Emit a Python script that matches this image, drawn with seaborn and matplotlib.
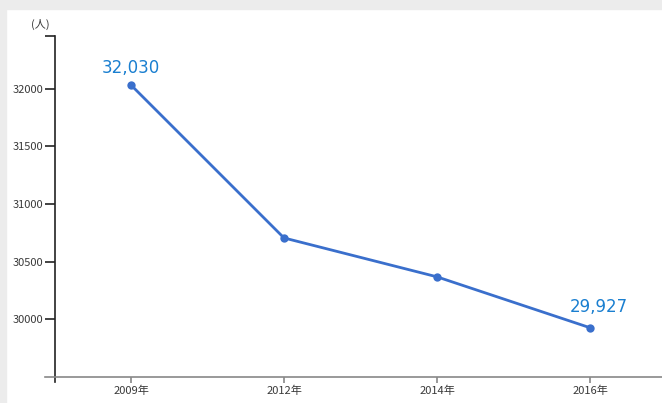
import matplotlib
matplotlib.use("Agg")
import matplotlib.pyplot as plt
import seaborn as sns
import pandas as pd
from matplotlib.patches import Rectangle

years = ["2009年", "2012年", "2014年", "2016年"]
values = [32030, 30705, 30368, 29927]
annot_idx = [0, 3]
annot_text = ["32,030", "29,927"]
yticks = [30000, 30500, 31000, 31500, 32000]
unit_label = "(人)"

sns.set_theme(style="white")
plt.rcParams['font.family'] = ['Noto Sans CJK JP', 'DejaVu Sans']

fig = plt.figure(figsize=(6.62, 4.03), dpi=100)
fig.patch.set_facecolor("white")
# light gray frame at left/top edges
fig.patches.append(Rectangle((0, 0), 6/662, 1, transform=fig.transFigure, color="#ececec", zorder=0))
fig.patches.append(Rectangle((0, 1-9/403), 1, 9/403, transform=fig.transFigure, color="#ececec", zorder=0))

ax = fig.add_axes([45/662, 21/403, 1-45/662, (403-21-36)/403])
ax.set_facecolor("none")

df = pd.DataFrame({"year": years, "value": values})
line_color = "#3a6fcc"
sns.lineplot(data=df, x="year", y="value", ax=ax, color=line_color, linewidth=2,
             marker="o", markersize=6, markeredgewidth=0, sort=False)

unit = 153.0
ax.set_xlim((45-131)/unit, (662-131)/unit)
# y: 30000 at y=319.3, 57.7 px per 500
px_per = 57.7/500
top_val = 30000 + (319.3-36)/px_per
bot_val = 30000 - (403-21-319.3)/px_per
ax.set_ylim(bot_val, top_val)

for s in ["top", "right"]:
    ax.spines[s].set_visible(False)
ax.spines["left"].set_position(("data", -0.5))
ax.spines["left"].set_color("#222222")
ax.spines["left"].set_linewidth(1.2)
ax.spines["bottom"].set_position(("data", 29500))
ax.spines["bottom"].set_color("#888888")
ax.spines["bottom"].set_linewidth(1.2)

ax.set_yticks(yticks + [top_val])
ax.set_yticklabels([str(v) for v in yticks] + [""], fontsize=8, color="#3a3a3a")
ax.tick_params(axis="y", which="both", left=True, length=7, width=1.2, color="#222222", pad=1)
ax.set_xticks(range(len(years)))
ax.set_xticklabels(years, fontsize=8, color="#3a3a3a")
ax.tick_params(axis="x", bottom=True, length=4, width=1.2, color="#888888", pad=2)
ax.set_xlabel("")
ax.set_ylabel("")
ax.grid(False)

offsets = [(0, 17), (9, 21)]
for i, t, off in zip(annot_idx, annot_text, offsets):
    ax.annotate(t, (i, values[i]), xytext=off, textcoords="offset pixels",
                ha="center", va="center", fontsize=12, color="#1a7fd0",
                family=["DejaVu Sans"])

fig.text(40/662, 1-24/403, unit_label, ha="center", va="center", fontsize=8, color="#3a3a3a")

fig.savefig("out.png", dpi=100)
